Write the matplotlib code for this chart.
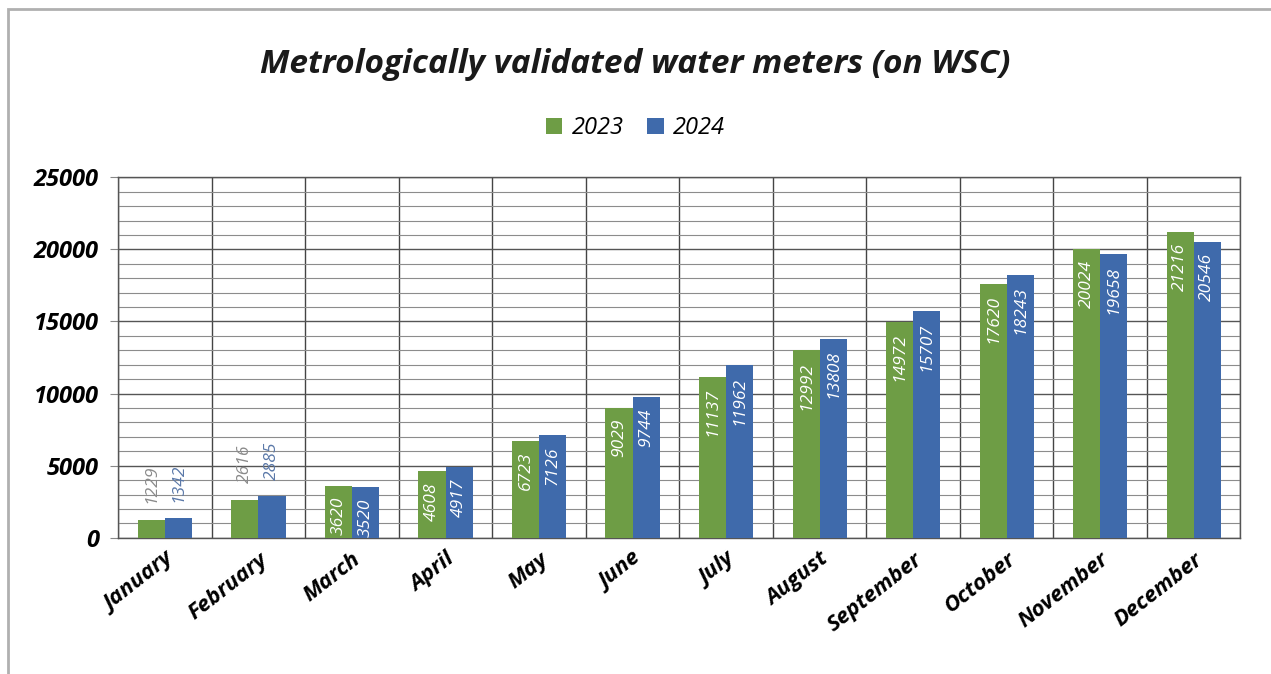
import numpy as np
import matplotlib.pyplot as plt
from matplotlib.patches import Rectangle
from matplotlib.ticker import MultipleLocator

# Monthly counts of validated meters
months = ['January', 'February', 'March', 'April', 'May', 'June', 'July',
          'August', 'September', 'October', 'November', 'December']
values_2023 = [1229, 2616, 3620, 4608, 6723, 9029, 11137, 12992, 14972, 17620, 20024, 21216]
values_2024 = [1342, 2885, 3520, 4917, 7126, 9744, 11962, 13808, 15707, 18243, 19658, 20546]
series_labels = ['2023', '2024']

green = '#6e9d45'
blue = '#3f6aab'
font = ['Open Sans', 'DejaVu Sans']

fig = plt.figure(figsize=(12.71, 6.74), dpi=100)
ax = fig.add_axes([0.093, 0.202, 0.883, 0.535])

x = np.arange(len(months))
w = 0.29
bars_a = ax.bar(x - w / 2, values_2023, w, color=green, label=series_labels[0], zorder=3)
bars_b = ax.bar(x + w / 2, values_2024, w, color=blue, label=series_labels[1], zorder=3)

# value labels: above small bars, inside the rest
for bars, vals, outside_color in [(bars_a, values_2023, '#8a8a8a'), (bars_b, values_2024, '#5a78a8')]:
    for b, v in zip(bars, vals):
        cx = b.get_x() + b.get_width() / 2
        if v < 3000:
            ax.annotate(str(v), (cx, v), xytext=(0, 12), textcoords='offset points',
                        rotation=90, ha='center', va='bottom', color=outside_color,
                        fontsize=12.5, style='italic', family=font, zorder=4)
        else:
            ax.annotate(str(v), (cx, v), xytext=(0, -8), textcoords='offset points',
                        rotation=90, ha='center', va='top', color='white',
                        fontsize=12.5, style='italic', family=font, zorder=4)

ax.set_xlim(-0.5, len(months) - 0.5)
ax.set_ylim(0, 25000)
ax.yaxis.set_major_locator(MultipleLocator(5000))
ax.yaxis.set_minor_locator(MultipleLocator(1000))
ax.grid(axis='y', which='major', color='#555555', linewidth=1.0, zorder=0)
ax.grid(axis='y', which='minor', color='#8c8c8c', linewidth=0.8, zorder=0)

# category separators
for b in np.arange(-0.5, len(months) + 0.5, 1):
    ax.axvline(b, color='#444444', linewidth=1.0, zorder=1)

ax.set_xticks(x)
ax.set_xticklabels(months, rotation=38, ha='right', rotation_mode='anchor',
                   fontsize=16, fontweight='bold', style='italic', family=font)
ax.tick_params(axis='x', length=0, pad=8)
ax.tick_params(axis='y', which='major', length=6, color='#888888', pad=8)
ax.tick_params(axis='y', which='minor', length=0)
for lbl in ax.get_yticklabels():
    lbl.set_fontsize(17)
    lbl.set_fontweight('bold')
    lbl.set_style('italic')
    lbl.set_family(font)

for s in ax.spines.values():
    s.set_color('#555555')
    s.set_linewidth(1.0)

fig.text(0.5, 0.905, 'Metrologically validated water meters (on WSC)', ha='center', va='center',
         fontsize=24, fontweight='bold', style='italic', family=font, color='#1a1a1a')

fig.legend(loc='center', bbox_to_anchor=(0.5, 0.81), ncol=2, frameon=False,
           handlelength=0.7, handleheight=0.7, handletextpad=0.4, columnspacing=1.0,
           prop={'family': font, 'size': 17, 'style': 'italic'})

# outer frame of the chart
fig.patches.append(Rectangle((0.006, -0.01), 1.0, 0.996, transform=fig.transFigure,
                             fill=False, edgecolor='#b0b0b0', linewidth=2))

fig.savefig('out.png', dpi=100)
